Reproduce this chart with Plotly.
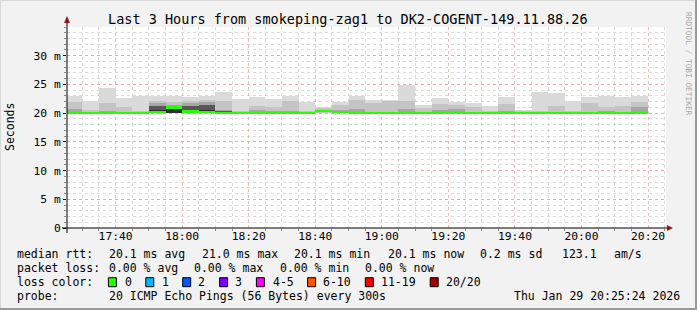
import plotly.graph_objects as go
import pandas as pd

# ---------------- data ----------------
bar_end_times = pd.date_range("2026-01-29 17:30", "2026-01-29 20:20", freq="5min")
step_seconds = 300

rtt_max = [22.9, 22.2, 24.3, 22.6, 22.9, 23.05, 22.9, 22.75, 22.9, 23.75, 22.4, 22.8,
           22.5, 23.05, 22.0, 21.1, 22.0, 23.05, 22.35, 22.3, 24.95, 21.5, 22.6, 22.0,
           21.7, 21.3, 22.75, 20.6, 23.6, 23.45, 22.2, 22.75, 23.05, 22.75, 23.05]
rtt_q1 = [21.9, 20.55, 21.7, 21.0, 20.45, 22.2, 21.9, 22.2, 22.3, 22.1, 20.4, 21.2,
          21.0, 22.05, 20.4, 20.9, 21.5, 22.3, 21.7, 22.1, 22.05, 20.9, 21.6, 21.5,
          21.0, 20.45, 21.6, 20.4, 20.3, 21.3, 20.4, 21.7, 21.1, 21.3, 22.0]
rtt_q2 = [20.7, None, 20.45, 20.25, None, 21.7, 21.5, 21.8, 21.9, 20.6, None, 20.5,
          20.3, 20.45, None, None, 20.6, 20.7, None, None, 20.7, None, 20.55, 20.7,
          None, None, 20.3, None, None, None, None, None, 20.3, 20.2, 21.0]
rtt_q3 = [None, None, None, None, None, 21.2, 21.2, 21.2, 21.5, 20.3, None, None,
          None, None, None, None, None, None, None, None, None, None, None, None,
          None, None, None, None, None, None, None, None, None, None, None]
rtt_q4 = [None, None, None, None, None, 20.6, 21.0, 20.6, 20.6, None, None, None,
          None, None, None, None, None, None, None, None, None, None, None, None,
          None, None, None, None, None, None, None, None, None, None, None]
rtt_min = [19.95, 19.95, 19.95, 19.95, 19.95, 19.95, 19.95, 19.95, 19.95, 19.95, 19.95, 19.95,
           19.95, 19.95, 19.95, 19.95, 19.95, 19.95, 19.95, 19.95, 19.95, 19.95, 19.95, 19.95,
           19.95, 19.95, 19.95, 19.95, 19.95, 19.95, 19.95, 19.95, 19.95, 19.95, 19.95]
rtt_median = [20.05, 20.05, 20.05, 20.05, 20.05, 20.15, 21.0, 20.3, 20.15, 20.05, 20.05, 20.05,
              20.05, 20.05, 20.05, 20.4, 20.2, 20.05, 20.05, 20.05, 20.05, 20.05, 20.05, 20.05,
              20.05, 20.05, 20.05, 20.05, 20.05, 20.05, 20.05, 20.05, 20.05, 20.05, 20.05]

y_tick_vals = [0, 5, 10, 15, 20, 25, 30]
y_tick_text = ["0", "5 m", "10 m", "15 m", "20 m", "25 m", "30 m"]

title_text = "Last 3 Hours from smokeping-zag1 to DK2-COGENT-149.11.88.26"
loss_labels = ["0", "1", "2", "3", "4-5", "6-10", "11-19", "20/20"]
loss_colors = ["#26ff00", "#00b8ff", "#0059ff", "#7e00ff", "#ff00ff", "#ff5500", "#ff0000", "#a10000"]
median_line = ["median rtt:", "20.1 ms avg", "21.0 ms max", "20.1 ms min", "20.1 ms now",
               "0.2 ms sd", "123.1", "am/s"]
loss_line = ["packet loss:", "0.00 % avg", "0.00 % max", "0.00 % min", "0.00 % now"]
probe_line = ["probe:", "20 ICMP Echo Pings (56 Bytes) every 300s", "Thu Jan 29 20:25:24 2026"]

# ---------------- layout geometry (pixels) ----------------
W, H = 697, 310
PL, PR, PT, PB = 67, 666, 27, 228
MONO = "DejaVu Sans Mono"


def fx(px):
    return (px - PL) / (PR - PL)


def fy(py):
    return (PB - py) / (PB - PT)


centers = bar_end_times - pd.Timedelta(seconds=step_seconds / 2)
bw = step_seconds * 1000

fig = go.Figure()


def band(top, bottom, color):
    ys, bases = [], []
    for t, b in zip(top, bottom):
        if t is None:
            ys.append(None)
            bases.append(None)
        else:
            ys.append(t - b)
            bases.append(b)
    fig.add_trace(go.Bar(x=centers, y=ys, base=bases, width=bw,
                         marker=dict(color=color, line=dict(width=0)),
                         hoverinfo="skip", showlegend=False))


band(rtt_max, rtt_min, "#dadada")
band(rtt_q1, rtt_min, "#c4c4c4")
band(rtt_q2, rtt_min, "#a6a6a6")
band(rtt_q3, rtt_min, "#585858")
band(rtt_q4, rtt_min, "#2e2e2e")

# median line (0 % loss colour)
fig.add_trace(go.Bar(x=centers, y=[0.4] * len(rtt_median), base=[m - 0.2 for m in rtt_median],
                     width=bw, marker=dict(color=loss_colors[0], line=dict(width=0)),
                     hoverinfo="skip", showlegend=False))

minor_grid = "rgba(190,190,190,0.55)"
major_grid = "rgba(245,140,140,0.6)"

fig.update_layout(
    width=W, height=H,
    margin=dict(l=PL, r=W - PR, t=PT, b=H - PB),
    paper_bgcolor="#f2f2f2", plot_bgcolor="#ffffff",
    barmode="overlay", bargap=0,
    font=dict(family=MONO, size=11.3, color="#000000"),
    showlegend=False,
    xaxis=dict(
        type="date",
        range=["2026-01-29 17:25:24", "2026-01-29 20:25:24"],
        tick0="2026-01-29 17:40", dtick=20 * 60 * 1000, tickformat="%H:%M",
        showgrid=True, gridcolor=major_grid, griddash="dot", gridwidth=1,
        ticks="",
        minor=dict(dtick=5 * 60 * 1000, tick0="2026-01-29 17:40", showgrid=True,
                   gridcolor=minor_grid, griddash="dot", ticks="outside", ticklen=2,
                   tickcolor="#888888"),
        showline=False, zeroline=False, layer="above traces", fixedrange=True,
    ),
    yaxis=dict(
        range=[0, 35], tickmode="array", tickvals=y_tick_vals, ticktext=y_tick_text,
        showgrid=True, gridcolor=major_grid, griddash="dot", gridwidth=1,
        ticks="outside", ticklen=3, tickcolor="#000000",
        minor=dict(dtick=1, tick0=0, showgrid=True, gridcolor=minor_grid, griddash="dot",
                   ticks="outside", ticklen=2, tickcolor="#888888"),
        showline=False, zeroline=False, layer="above traces", fixedrange=True,
    ),
)

shapes = []
# axis lines
shapes.append(dict(type="line", xref="paper", yref="paper", x0=fx(62), x1=fx(669), y0=0, y1=0,
                   line=dict(color="#000000", width=1)))
shapes.append(dict(type="line", xref="paper", yref="paper", x0=0, x1=0, y0=fy(233), y1=fy(21),
                   line=dict(color="#000000", width=1)))
# arrows
shapes.append(dict(type="path", xref="paper", yref="paper",
                   path=f"M {fx(64)} {fy(23)} L {fx(70)} {fy(23)} L {fx(67)} {fy(16)} Z",
                   fillcolor="#8b1a1a", line=dict(width=0)))
shapes.append(dict(type="path", xref="paper", yref="paper",
                   path=f"M {fx(667)} {fy(225)} L {fx(667)} {fy(231)} L {fx(673)} {fy(228)} Z",
                   fillcolor="#8b1a1a", line=dict(width=0)))
# image frame
shapes.append(dict(type="line", xref="paper", yref="paper", x0=fx(0), x1=fx(W), y0=fy(0.5), y1=fy(0.5),
                   line=dict(color="#d8d8d8", width=1)))
shapes.append(dict(type="line", xref="paper", yref="paper", x0=fx(0.5), x1=fx(0.5), y0=fy(0), y1=fy(H),
                   line=dict(color="#d8d8d8", width=1)))
shapes.append(dict(type="line", xref="paper", yref="paper", x0=fx(0), x1=fx(W), y0=fy(H - 1), y1=fy(H - 1),
                   line=dict(color="#9a9a9a", width=2)))
shapes.append(dict(type="line", xref="paper", yref="paper", x0=fx(W - 1), x1=fx(W - 1), y0=fy(0), y1=fy(H),
                   line=dict(color="#9a9a9a", width=2)))

annotations = []


def text(t, px, py, size=11.5, color="#000000", anchor="left", angle=0):
    annotations.append(dict(text=t.replace(" ", "\u00a0"), xref="paper", yref="paper",
                            x=fx(px), y=fy(py), xanchor=anchor, yanchor="middle",
                            showarrow=False, borderpad=0, textangle=angle,
                            font=dict(family=MONO, size=size, color=color)))


text(title_text, 348, 19, size=13.5, anchor="center")
text("Seconds", 10, 127, size=11.5, anchor="center", angle=-90)
text("RRDTOOL / TOBI OETIKER", 689, 64, size=7.8, color="#a8a8a8", anchor="center", angle=90)

for t, px in zip(median_line, [16.4, 107.6, 200.5, 293.3, 386.7, 479.1, 561.0, 613.3]):
    text(t, px, 254.3)
for t, px in zip(loss_line, [16.4, 107.6, 193.3, 279.0, 364.4]):
    text(t, px, 268.3)
text("loss color:", 16.4, 282.3)
box_x = [108.4, 145.8, 182.7, 219.6, 256.4, 307.6, 365.3, 430.2]
lab_x = [123.6, 160.9, 197.3, 234.2, 271.6, 322.2, 380.0, 445.3]
for lab, col, bx, lx in zip(loss_labels, loss_colors, box_x, lab_x):
    shapes.append(dict(type="rect", xref="paper", yref="paper", x0=fx(bx), x1=fx(bx + 8),
                       y0=fy(286.7), y1=fy(277.7), fillcolor=col,
                       line=dict(color="#000000", width=1)))
    text(lab, lx, 282.3)
for t, px in zip(probe_line, [16.4, 107.6, 513.3]):
    text(t, px, 296.0)

fig.update_layout(shapes=shapes, annotations=annotations)
fig.write_html("out.html", config={"displayModeBar": False})
